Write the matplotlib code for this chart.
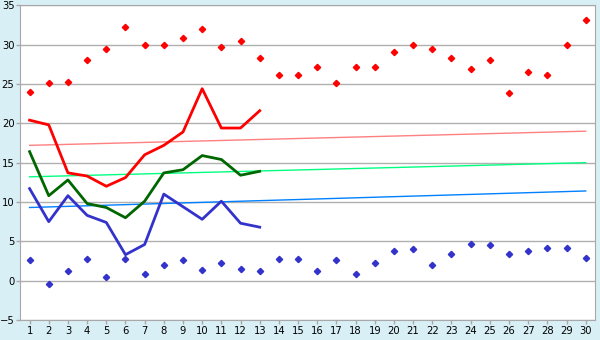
import matplotlib
matplotlib.use("Agg")
import matplotlib.pyplot as plt

# dni miesiąca
days = list(range(1, 31))
line_days = list(range(1, 14))

# rekordy (punkty)
rec_max = [24.0, 25.1, 25.3, 28.1, 29.4, 32.2, 30.0, 30.0, 30.9, 32.0,
           29.7, 30.4, 28.3, 26.2, 26.1, 27.2, 25.1, 27.2, 27.2, 29.1,
           30.0, 29.4, 28.3, 26.9, 28.0, 23.8, 26.5, 26.1, 30.0, 33.1]
rec_min = [2.6, -0.4, 1.2, 2.8, 0.5, 2.8, 0.8, 2.0, 2.6, 1.4,
           2.2, 1.5, 1.2, 2.8, 2.8, 1.2, 2.6, 0.9, 2.2, 3.8,
           4.0, 2.0, 3.4, 4.6, 4.5, 3.4, 3.8, 4.2, 4.1, 2.9]

# bieżące wartości (linie)
t_max = [20.4, 19.8, 13.7, 13.3, 12.0, 13.1, 16.0, 17.2, 18.9, 24.4, 19.4, 19.4, 21.6]
t_avg = [16.4, 10.8, 12.8, 9.8, 9.3, 8.0, 10.1, 13.7, 14.1, 15.9, 15.4, 13.4, 13.9]
t_min = [11.7, 7.5, 10.8, 8.3, 7.4, 3.3, 4.6, 11.0, 9.4, 7.8, 10.1, 7.3, 6.8]

# normy (linie trendu, dzień 1 i dzień 30)
trend_days = [1, 30]
norm_max = [17.2, 19.0]
norm_avg = [13.2, 15.0]
norm_min = [9.3, 11.4]

fig = plt.figure(figsize=(6, 3.4), dpi=100)
fig.patch.set_facecolor('#D9EFF6')
ax = fig.add_axes([20/600, 1-320/340, 575.3/600, 314.7/340])
ax.set_facecolor('white')

ax.plot(trend_days, norm_max, color='#FF8080', lw=1)
ax.plot(trend_days, norm_avg, color='#00FF80', lw=1)
ax.plot(trend_days, norm_min, color='#0080FF', lw=1)

ax.plot(line_days, t_max, color='#FF0000', lw=2, solid_joinstyle='round')
ax.plot(line_days, t_avg, color='#006600', lw=2, solid_joinstyle='round')
ax.plot(line_days, t_min, color='#3333CC', lw=2, solid_joinstyle='round')

ax.plot(days, rec_max, ls='none', marker='D', ms=3.2, color='#FF0000')
ax.plot(days, rec_min, ls='none', marker='D', ms=3.2, color='#3333CC')

ax.set_xlim(0.5, 30.5)
ax.set_ylim(-5, 35)
ax.set_xticks(days)
ax.set_yticks(range(-5, 36, 5))
ax.yaxis.grid(True, color='#B0B0B0', lw=1)
ax.set_axisbelow(True)
for s in ax.spines.values():
    s.set_color('#A8A8A8')
ax.tick_params(axis='both', colors='#A8A8A8', labelcolor='black',
               labelsize=7.2, length=3, width=1, pad=1)

fig.savefig('out.png', dpi=100, facecolor=fig.get_facecolor())
